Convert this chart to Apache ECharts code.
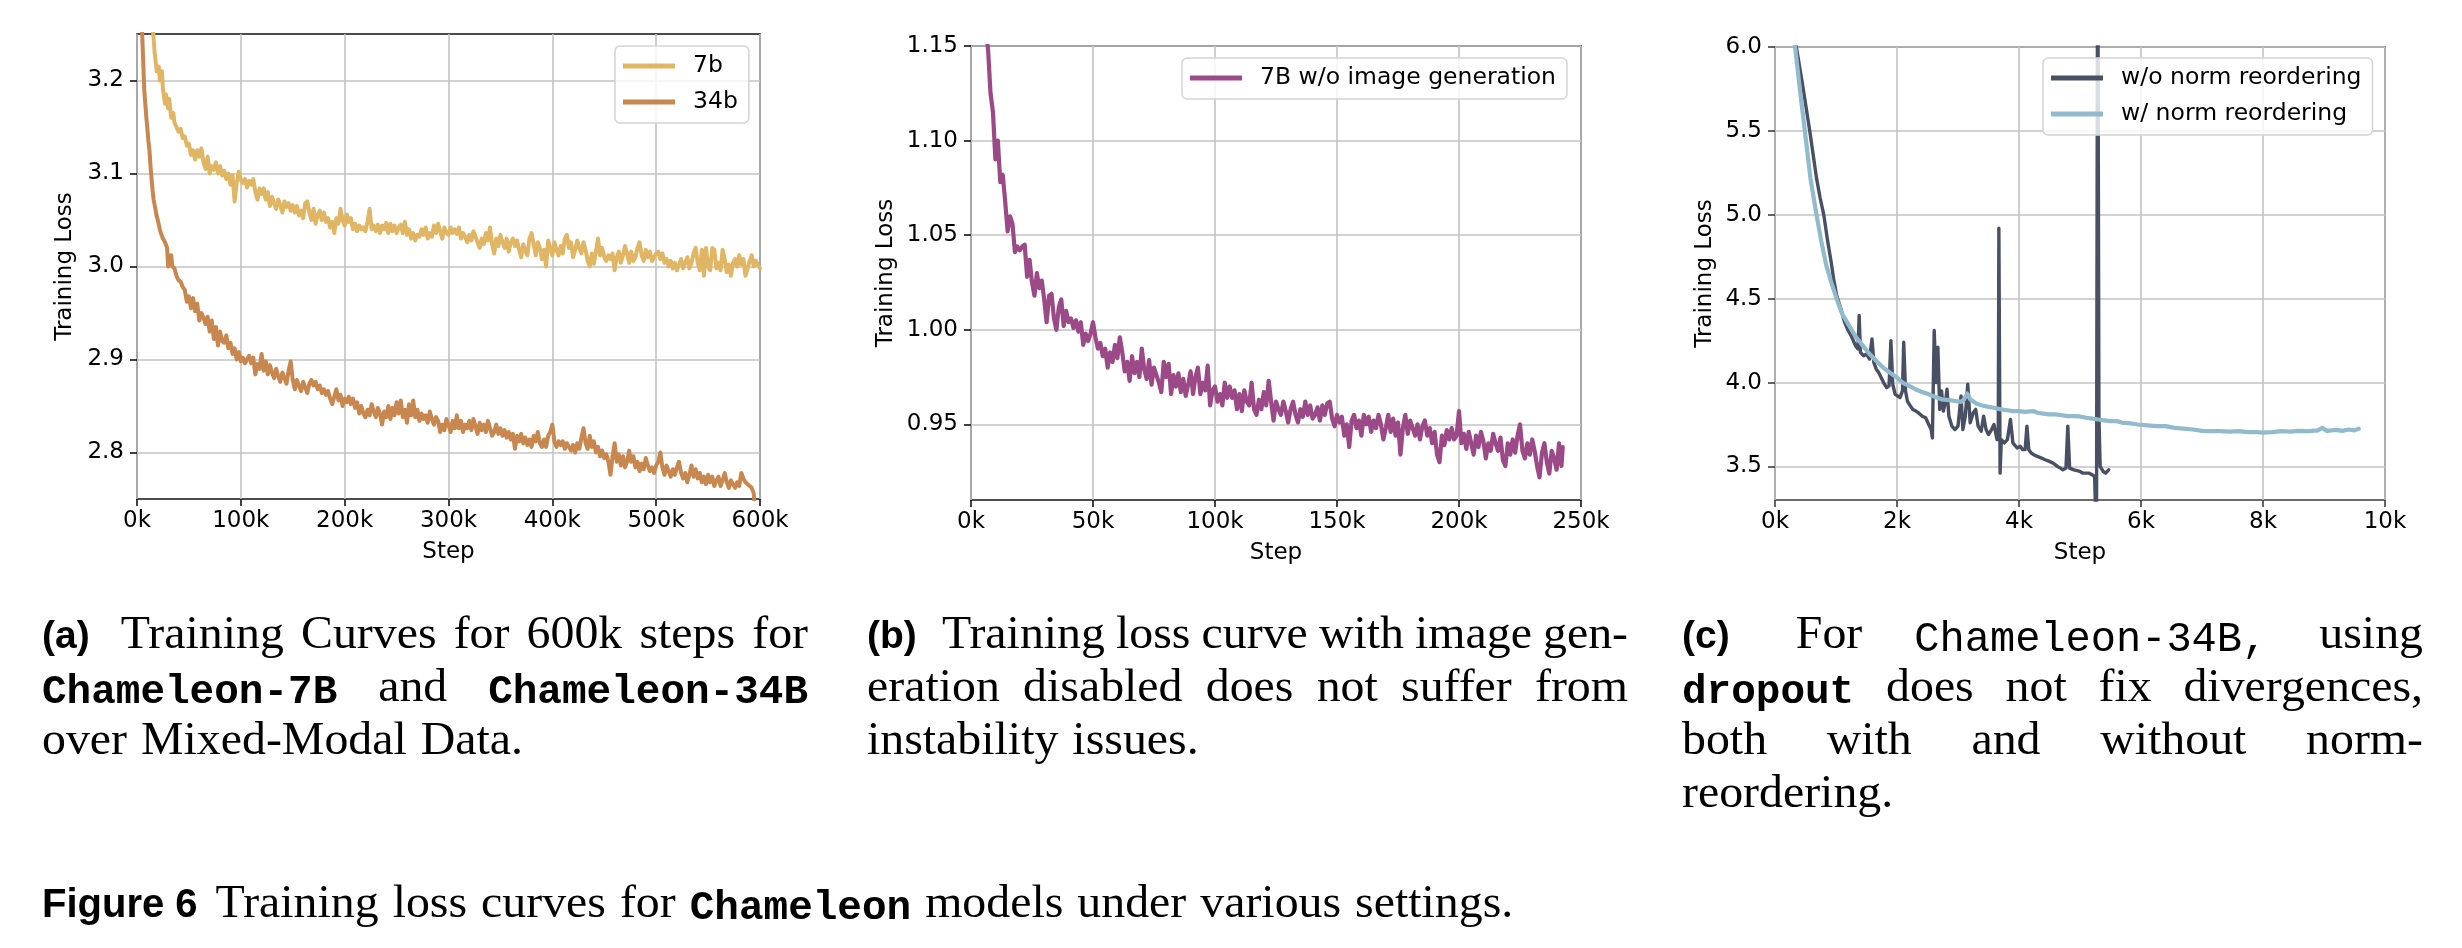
<!DOCTYPE html>
<html><head><meta charset="utf-8">
<script src="https://cdn.jsdelivr.net/npm/echarts@6/dist/echarts.min.js"></script>
<style>html,body{margin:0;padding:0;background:#fff}#c{width:2462px;height:948px}</style>
</head><body><div id="c"></div>
<script>
// ---------- Panel (a): Chameleon 7b / 34b, steps in thousands ----------
const steps7b = [12,15,17,19,21,22,24,25,27,28,
30,31,33,35,36,38,40,42,44,46,
48,50,52,54,56,58,60,62,64,66,
68,70,72,74,76,78,80,82,84,86,
88,90,92,94,96,98,100,102,104,106,
108,110,112,114,116,118,120,122,124,126,
128,130,132,134,136,138,140,142,144,146,
148,150,152,154,156,158,160,162,164,166,
168,170,172,174,176,178,180,182,184,186,
188,190,192,194,196,198,200,202,204,206,
208,210,212,214,216,218,220,222,224,226,
228,230,232,234,236,238,240,242,244,246,
248,250,252,254,256,258,260,262,264,266,
268,270,272,274,276,278,280,282,284,286,
288,290,292,294,296,298,300,302,304,306,
308,310,312,314,316,318,320,322,324,326,
328,330,332,334,336,338,340,342,344,346,
348,350,352,354,356,358,360,362,364,366,
368,370,372,374,376,378,380,382,384,386,
388,390,392,394,396,398,400,402,404,406,
408,410,412,414,416,418,420,422,424,426,
428,430,432,434,436,438,440,442,444,446,
448,450,452,454,456,458,460,462,464,466,
468,470,472,474,476,478,480,482,484,486,
488,490,492,494,496,498,500,502,504,506,
508,510,512,514,516,518,520,522,524,526,
528,530,532,534,536,538,540,542,544,546,
548,550,552,554,556,558,560,562,564,566,
568,570,572,574,576,578,580,582,584,586,
588,590,592,594,596,598,600];
const loss7b = [3.34,3.26,3.23,3.21,3.215,3.20,3.21,3.19,3.175,3.185,
3.17,3.18,3.16,3.165,3.155,3.15,3.145,3.148,3.138,3.14,
3.13,3.132,3.12,3.125,3.115,3.125,3.118,3.127,3.112,3.105,
3.118,3.1,3.108,3.104,3.112,3.1,3.108,3.098,3.103,3.094,
3.1,3.088,3.098,3.07,3.09,3.102,3.093,3.09,3.094,3.085,
3.092,3.088,3.094,3.08,3.072,3.084,3.078,3.084,3.072,3.08,
3.065,3.075,3.068,3.062,3.072,3.066,3.058,3.07,3.064,3.068,
3.06,3.066,3.058,3.065,3.055,3.06,3.052,3.068,3.07,3.058,
3.05,3.062,3.046,3.055,3.06,3.05,3.058,3.048,3.052,3.042,
3.048,3.036,3.052,3.046,3.062,3.05,3.044,3.056,3.048,3.052,
3.04,3.046,3.038,3.044,3.04,3.042,3.038,3.048,3.062,3.04,
3.044,3.038,3.045,3.036,3.044,3.04,3.047,3.036,3.046,3.038,
3.044,3.036,3.042,3.045,3.036,3.048,3.034,3.04,3.03,3.036,
3.028,3.034,3.032,3.04,3.034,3.042,3.03,3.036,3.032,3.044,
3.036,3.046,3.038,3.03,3.042,3.036,3.034,3.042,3.036,3.04,
3.035,3.042,3.03,3.036,3.032,3.026,3.034,3.028,3.038,3.032,
3.026,3.02,3.03,3.024,3.036,3.028,3.042,3.024,3.014,3.03,
3.022,3.034,3.026,3.02,3.03,3.016,3.026,3.03,3.022,3.028,
3.018,3.01,3.024,3.016,3.012,3.03,3.036,3.024,3.012,3.026,
3.02,3.008,3.018,3.0,3.028,3.02,3.012,3.026,3.018,3.012,
3.022,3.014,3.03,3.034,3.02,3.026,3.01,3.018,3.028,3.02,
3.014,3.026,3.018,3.006,3.0,3.014,3.003,3.016,3.03,3.012,
3.02,3.01,3.006,3.012,3.008,3.014,2.996,3.01,3.016,3.004,
3.012,3.022,3.014,3.004,3.016,3.006,3.01,3.02,3.026,3.012,
3.006,3.018,3.01,3.016,3.006,3.01,3.014,3.016,3.008,3.014,
3.004,3.008,3.0,3.006,2.998,3.004,2.996,3.002,3.008,2.998,
3.004,3.01,2.998,3.004,3.014,3.02,3.004,2.996,3.018,2.99,
3.02,3.0,2.996,3.02,3.018,2.998,3.004,2.996,3.018,3.008,
2.994,3.002,2.99,3.004,3.008,3.0,3.012,3.002,3.008,2.99,
2.998,3.006,3.012,3.0,3.006,3.002,2.998];

const steps34b = [4,5,6,7,8,9,10,11,12,13,
14,15,16,17,18,19,20,21,22,23,
24,25,26,27,28,29,30,31,32,33,
34,36,38,40,42,44,46,48,50,52,
54,56,58,60,62,64,66,68,70,72,
74,76,78,80,82,84,86,88,90,92,
94,96,98,100,102,104,106,108,110,112,
114,116,118,120,122,124,126,128,130,132,
134,136,138,140,142,144,146,148,150,152,
154,156,158,160,162,164,166,168,170,172,
174,176,178,180,182,184,186,188,190,192,
194,196,198,200,202,204,206,208,210,212,
214,216,218,220,222,224,226,228,230,232,
234,236,238,240,242,244,246,248,250,252,
254,256,258,260,262,264,266,268,270,272,
274,276,278,280,282,284,286,288,290,292,
294,296,298,300,302,304,306,308,310,312,
314,316,318,320,322,324,326,328,330,332,
334,336,338,340,342,344,346,348,350,352,
354,356,358,360,362,364,366,368,370,372,
374,376,378,380,382,384,386,388,390,392,
394,396,398,400,402,404,406,408,410,412,
414,416,418,420,422,424,426,428,430,432,
434,436,438,440,442,444,446,448,450,452,
454,456,458,460,462,464,466,468,470,472,
474,476,478,480,482,484,486,488,490,492,
494,496,498,500,502,504,506,508,510,512,
514,516,518,520,522,524,526,528,530,532,
534,536,538,540,542,544,546,548,550,552,
554,556,558,560,562,564,566,568,570,572,
574,576,578,580,582,584,586,588,590,592,
594,595,596];
const loss34b = [3.30,3.25,3.22,3.19,3.175,3.16,3.148,3.135,3.125,3.108,
3.095,3.082,3.072,3.066,3.06,3.054,3.05,3.045,3.04,3.036,
3.034,3.03,3.03,3.026,3.028,3.02,3.0,3.012,3.008,3.012,
3.0,2.998,2.99,2.985,2.984,2.978,2.975,2.962,2.968,2.955,
2.966,2.952,2.96,2.942,2.95,2.945,2.938,2.946,2.93,2.942,
2.922,2.935,2.915,2.93,2.92,2.918,2.926,2.912,2.918,2.906,
2.912,2.9,2.908,2.898,2.902,2.896,2.9,2.904,2.896,2.902,
2.884,2.895,2.89,2.906,2.888,2.898,2.884,2.894,2.886,2.88,
2.89,2.882,2.876,2.886,2.88,2.874,2.888,2.898,2.878,2.868,
2.878,2.872,2.866,2.876,2.87,2.864,2.874,2.878,2.872,2.876,
2.868,2.872,2.864,2.868,2.862,2.866,2.858,2.852,2.86,2.868,
2.856,2.862,2.85,2.858,2.854,2.86,2.852,2.858,2.848,2.854,
2.842,2.85,2.842,2.838,2.846,2.84,2.852,2.844,2.838,2.848,
2.842,2.83,2.844,2.838,2.85,2.836,2.848,2.84,2.854,2.842,
2.856,2.838,2.846,2.832,2.852,2.84,2.856,2.838,2.846,2.834,
2.842,2.836,2.84,2.832,2.844,2.836,2.83,2.838,2.834,2.822,
2.83,2.824,2.836,2.83,2.822,2.834,2.826,2.84,2.826,2.834,
2.822,2.83,2.826,2.834,2.824,2.836,2.828,2.82,2.832,2.824,
2.83,2.822,2.834,2.826,2.818,2.822,2.83,2.82,2.826,2.818,
2.824,2.816,2.822,2.814,2.82,2.804,2.818,2.812,2.82,2.81,
2.816,2.808,2.814,2.806,2.818,2.812,2.822,2.81,2.806,2.814,
2.806,2.818,2.822,2.83,2.812,2.806,2.812,2.808,2.812,2.804,
2.81,2.806,2.802,2.808,2.8,2.81,2.804,2.816,2.826,2.81,
2.804,2.818,2.806,2.812,2.8,2.806,2.796,2.802,2.794,2.798,
2.79,2.776,2.796,2.81,2.79,2.798,2.786,2.796,2.784,2.79,
2.802,2.79,2.796,2.784,2.79,2.78,2.788,2.782,2.794,2.786,
2.78,2.784,2.778,2.786,2.79,2.8,2.784,2.776,2.786,2.78,
2.774,2.782,2.776,2.784,2.79,2.778,2.772,2.778,2.768,2.776,
2.786,2.774,2.782,2.772,2.778,2.768,2.774,2.766,2.776,2.768,
2.774,2.764,2.77,2.774,2.764,2.77,2.778,2.768,2.762,2.77,
2.766,2.762,2.768,2.764,2.778,2.772,2.768,2.766,2.764,2.762,
2.756,2.74,2.72];

// ---------- Panel (b): 7B without image generation ----------
const stepsNoImg = [6,7,8,9,10,11,12,13,14,15,
16,17,18,19,20,21,22,23,24,25,
26,27,28,29,30,31,32,33,34,35,
36,37,38,39,40,41,42,43,44,45,
46,47,48,49,50,51,52,53,54,55,
56,57,58,59,60,61,62,63,64,65,
66,67,68,69,70,71,72,73,74,75,
76,77,78,79,80,81,82,83,84,85,
86,87,88,89,90,91,92,93,94,95,
96,97,98,99,100,101,102,103,104,105,
106,107,108,109,110,111,112,113,114,115,
116,117,118,119,120,121,122,123,124,125,
126,127,128,129,130,131,132,133,134,135,
136,137,138,139,140,141,142,143,144,145,
146,147,148,149,150,151,152,153,154,155,
156,157,158,159,160,161,162,163,164,165,
166,167,168,169,170,171,172,173,174,175,
176,177,178,179,180,181,182,183,184,185,
186,187,188,189,190,191,192,193,194,195,
196,197,198,199,200,201,202,203,204,205,
206,207,208,209,210,211,212,213,214,215,
216,217,218,219,220,221,222,223,224,225,
226,227,228,229,230,231,232,233,234,235,
236,237,238,239,240,241,242,242.5];
const lossNoImg = [1.16,1.148,1.125,1.115,1.09,1.1,1.078,1.082,1.068,1.052,
1.06,1.056,1.041,1.044,1.042,1.044,1.045,1.028,1.037,1.025,
1.018,1.03,1.022,1.026,1.016,1.004,1.018,1.019,1.006,1.0,
1.012,1.016,1.002,1.01,1.004,1.006,1.001,1.005,0.999,1.004,
0.992,0.998,0.994,0.998,1.004,0.996,0.99,0.993,0.986,0.99,
0.98,0.988,0.983,0.992,0.985,0.996,0.988,0.978,0.983,0.973,
0.986,0.977,0.983,0.975,0.99,0.979,0.974,0.984,0.971,0.98,
0.976,0.972,0.967,0.983,0.975,0.982,0.966,0.976,0.97,0.977,
0.967,0.974,0.965,0.971,0.978,0.966,0.975,0.98,0.966,0.972,
0.968,0.981,0.96,0.968,0.97,0.962,0.966,0.96,0.972,0.964,
0.97,0.964,0.968,0.958,0.966,0.957,0.968,0.962,0.96,0.972,
0.958,0.955,0.963,0.958,0.967,0.96,0.973,0.962,0.952,0.962,
0.958,0.955,0.962,0.957,0.951,0.958,0.962,0.955,0.951,0.958,
0.954,0.962,0.955,0.96,0.953,0.955,0.959,0.952,0.96,0.955,
0.961,0.962,0.953,0.949,0.955,0.951,0.954,0.944,0.95,0.938,
0.952,0.955,0.948,0.952,0.944,0.955,0.95,0.954,0.946,0.952,
0.948,0.955,0.95,0.942,0.948,0.955,0.946,0.953,0.944,0.951,
0.934,0.948,0.955,0.945,0.952,0.948,0.944,0.95,0.942,0.949,
0.952,0.944,0.948,0.94,0.946,0.934,0.93,0.944,0.939,0.947,
0.942,0.948,0.942,0.944,0.957,0.94,0.945,0.937,0.946,0.94,
0.934,0.944,0.938,0.946,0.941,0.932,0.94,0.936,0.945,0.94,
0.936,0.943,0.931,0.928,0.94,0.934,0.942,0.935,0.944,0.95,
0.936,0.932,0.94,0.934,0.942,0.936,0.928,0.922,0.935,0.94,
0.93,0.924,0.936,0.932,0.926,0.94,0.928,0.938];

// ---------- Panel (c): Chameleon-34B with dropout, steps in thousands ----------
const stepsNoReorder = [0.3,0.35,0.45,0.57,0.68,0.74,0.8,0.86,0.92,0.96,
1.01,1.08,1.14,1.2,1.26,1.32,1.36,1.38,1.4,1.45,
1.5,1.55,1.59,1.62,1.66,1.7,1.74,1.78,1.83,1.87,
1.9,1.93,1.97,2.0,2.05,2.09,2.11,2.14,2.17,2.22,
2.26,2.31,2.35,2.41,2.47,2.52,2.56,2.58,2.61,2.64,
2.67,2.7,2.73,2.76,2.8,2.82,2.85,2.9,2.95,3.0,
3.05,3.08,3.12,3.16,3.2,3.25,3.29,3.33,3.38,3.42,
3.46,3.5,3.55,3.59,3.64,3.66,3.67,3.69,3.71,3.76,
3.81,3.86,3.9,3.97,4.02,4.06,4.1,4.13,4.16,4.2,
4.24,4.3,4.37,4.43,4.5,4.56,4.63,4.68,4.72,4.77,
4.8,4.83,4.9,5.0,5.05,5.1,5.15,5.2,5.24,5.27,
5.29,5.31,5.33,5.38,5.42,5.47];
const lossNoReorder = [6.12,6.0,5.78,5.5,5.22,5.1,5.0,4.85,4.72,4.62,
4.52,4.44,4.36,4.31,4.27,4.22,4.2,4.4,4.18,4.16,
4.17,4.14,4.26,4.12,4.08,4.06,4.03,4.0,3.97,3.98,
4.25,3.99,3.93,3.92,3.91,3.95,4.24,3.95,3.89,3.86,
3.84,3.83,3.82,3.8,3.79,3.75,3.72,3.67,4.31,4.0,
4.21,3.84,3.95,3.83,3.9,3.96,3.8,3.74,3.72,3.74,
3.92,3.72,3.8,3.99,3.76,3.82,3.84,3.74,3.71,3.8,
3.72,3.69,3.72,3.75,3.66,3.7,4.92,3.46,3.66,3.64,
3.66,3.78,3.64,3.61,3.62,3.6,3.6,3.74,3.6,3.58,
3.57,3.56,3.55,3.54,3.53,3.52,3.5,3.49,3.48,3.49,
3.74,3.49,3.48,3.47,3.46,3.46,3.46,3.45,3.44,3.0,
7.0,3.8,3.5,3.47,3.46,3.48];
const stepsReorder = [0.28,0.33,0.41,0.49,0.58,0.68,0.76,0.84,0.92,1.01,
1.1,1.23,1.33,1.44,1.55,1.66,1.77,1.88,2.0,2.09,
2.2,2.3,2.4,2.52,2.62,2.73,2.85,2.95,3.05,3.1,
3.15,3.2,3.3,3.38,3.5,3.59,3.7,3.81,3.9,4.0,
4.1,4.24,4.3,4.4,4.5,4.6,4.7,4.8,4.9,5.0,
5.1,5.2,5.3,5.4,5.5,5.6,5.7,5.8,5.95,6.1,
6.25,6.4,6.55,6.7,6.85,7.0,7.15,7.3,7.45,7.6,
7.75,7.9,8.0,8.15,8.3,8.45,8.6,8.75,8.9,8.97,
9.05,9.2,9.3,9.4,9.5,9.57];
const lossReorder = [6.12,6.0,5.74,5.5,5.22,5.0,4.84,4.7,4.6,4.5,
4.41,4.33,4.27,4.22,4.17,4.13,4.09,4.06,4.03,4.0,
3.98,3.96,3.945,3.93,3.915,3.9,3.895,3.89,3.885,3.9,
3.935,3.9,3.875,3.865,3.855,3.85,3.84,3.835,3.83,3.83,
3.825,3.83,3.82,3.815,3.81,3.81,3.805,3.8,3.8,3.798,
3.79,3.785,3.78,3.775,3.77,3.77,3.76,3.758,3.75,3.745,
3.74,3.74,3.73,3.725,3.72,3.712,3.71,3.71,3.708,3.71,
3.705,3.705,3.702,3.705,3.71,3.708,3.712,3.71,3.715,3.73,
3.712,3.718,3.712,3.72,3.715,3.725];

// ---------- Tick values / labels ----------
const xTickLabelsA = ['0k','100k','200k','300k','400k','500k','600k'];
const xTickLabelsB = ['0k','50k','100k','150k','200k','250k'];
const xTickLabelsC = ['0k','2k','4k','6k','8k','10k'];
const yTicksA = [2.8, 2.9, 3.0, 3.1, 3.2];
const yTicksB = [0.95, 1.00, 1.05, 1.10, 1.15];
const yTicksC = [3.5, 4.0, 4.5, 5.0, 5.5, 6.0];
const seriesNames = ['7b', '34b', '7B w/o image generation', 'w/o norm reordering', 'w/ norm reordering'];

// ---------- Captions ----------
const captionA = [
  [['(a)','lab'],['Training','rm'],['Curves','rm'],['for','rm'],['600k','rm'],['steps','rm'],['for','rm']],
  [['Chameleon-7B','ttb'],['and','rm'],['Chameleon-34B','ttb']],
  [['over','rm'],['Mixed-Modal','rm'],['Data.','rm']]
];
const captionB = [
  [['(b)','lab'],['Training','rm'],['loss','rm'],['curve','rm'],['with','rm'],['image','rm'],['gen-','rm']],
  [['eration','rm'],['disabled','rm'],['does','rm'],['not','rm'],['suffer','rm'],['from','rm']],
  [['instability','rm'],['issues.','rm']]
];
const captionC = [
  [['(c)','lab'],['For','rm'],['Chameleon-34B,','tt'],['using','rm']],
  [['dropout','ttb'],['does','rm'],['not','rm'],['fix','rm'],['divergences,','rm']],
  [['both','rm'],['with','rm'],['and','rm'],['without','rm'],['norm-','rm']],
  [['reordering.','rm']]
];
const captionFig = [[['Figure 6','fig'],['Training','rm'],['loss','rm'],['curves','rm'],['for','rm'],['Chameleon','ttb'],['models','rm'],['under','rm'],['various','rm'],['settings.','rm']]];

// ================= build =================
const pairs = (xs, ys) => xs.slice(0, Math.min(xs.length, ys.length)).map((x, i) => [x, ys[i]]);
const FONT = 'DejaVu Sans';
const TICK_FS = 23;

function xAxisCfg(gi, max, interval, labels, axisColor) {
  return {
    type: 'value', gridIndex: gi, min: 0, max: max, interval: interval,
    axisLine: { show: false },
    axisTick: { show: true, inside: false, length: 7, lineStyle: { color: axisColor, width: 1.6 } },
    axisLabel: { show: true, margin: 11, fontSize: TICK_FS, fontFamily: FONT, color: '#000',
      formatter: v => labels[Math.round(v / interval)] },
    splitLine: { show: true, lineStyle: { color: '#c3c3c3', width: 1.6 } },
    name: 'Step', nameLocation: 'middle', nameGap: 42,
    nameTextStyle: { fontSize: TICK_FS, fontFamily: FONT, color: '#000' }
  };
}
function yAxisCfg(gi, min, max, ticks, decimals, nameGap, axisColor) {
  return {
    type: 'value', gridIndex: gi, min: min, max: max,
    axisLine: { show: false },
    axisTick: { show: true, inside: false, length: 7, customValues: ticks, lineStyle: { color: axisColor, width: 1.6 } },
    axisLabel: { show: true, margin: 13, customValues: ticks, fontSize: TICK_FS, fontFamily: FONT, color: '#000',
      formatter: v => Number(v).toFixed(decimals) },
    splitLine: { show: true, lineStyle: { color: '#c3c3c3', width: 1.6 } },
    name: 'Training Loss', nameLocation: 'middle', nameGap: nameGap,
    nameTextStyle: { fontSize: TICK_FS, fontFamily: FONT, color: '#000' }
  };
}
function lineSeries(name, gi, data, color, width) {
  return {
    type: 'line', name: name, xAxisIndex: gi, yAxisIndex: gi, data: data,
    showSymbol: false, symbol: 'none', clip: true, smooth: false,
    lineStyle: { color: color, width: width, join: 'round', cap: 'round' },
    itemStyle: { color: color },
    emphasis: { disabled: true }, animation: false
  };
}
function legendCfg(left, top, names) {
  return {
    data: names, left: left, top: top, orient: 'vertical',
    icon: 'rect', itemWidth: 52, itemHeight: 5, itemGap: 12,
    backgroundColor: 'rgba(255,255,255,0.8)', borderColor: '#d4d4d4', borderWidth: 1.5, borderRadius: 5,
    padding: [8, 11, 9, 8],
    textStyle: { fontSize: 23.5, fontFamily: FONT, color: '#000', lineHeight: 24, padding: [0, 0, 0, 13] },
    selectedMode: false
  };
}

// ---- caption layout (text only) ----
const FONTS = {
  lab: { family: 'Liberation Sans', weight: 'bold', size: 39, sx: 1, k: 0.3465 },
  fig: { family: 'Liberation Sans', weight: 'bold', size: 40, sx: 1, k: 0.3465 },
  rm:  { family: 'Liberation Serif', weight: 'normal', size: 46, sx: 1.04, k: 0.3375 },
  ttb: { family: 'Liberation Mono', weight: 'bold', size: 41, sx: 1, k: 0.2665 },
  tt:  { family: 'Liberation Mono', weight: 'normal', size: 42, sx: 1, k: 0.2665 }
};
const mctx = document.createElement('canvas').getContext('2d');
function measure(t, f) {
  mctx.font = f.weight + ' ' + f.size + 'px ' + f.family;
  return mctx.measureText(t).width * f.sx;
}
function layoutParagraph(lines, x0, x1, baseline0, lineStep) {
  const els = [];
  lines.forEach((words, li) => {
    const justify = li < lines.length - 1;
    const ws = words.map(w => measure(w[0], FONTS[w[1]]));
    const base = words.slice(0, -1).map(w => (w[1] === 'lab' ? 28 : (w[1] === 'fig' ? 18 : 14)));
    let extra = 0;
    if (justify && words.length > 1) {
      const tot = ws.reduce((a, b) => a + b, 0) + base.reduce((a, b) => a + b, 0);
      extra = (x1 - x0 - tot) / (words.length - 1);
    }
    let x = x0;
    const by = baseline0 + li * lineStep;
    words.forEach((w, i) => {
      const f = FONTS[w[1]];
      els.push({
        type: 'text', x: x, y: by - f.k * f.size, scaleX: f.sx, silent: true,
        style: { text: w[0], fontSize: f.size, fontFamily: f.family, fontWeight: f.weight,
                 fill: '#000', align: 'left', verticalAlign: 'middle' }
      });
      x += ws[i] + (i < base.length ? base[i] + extra : 0);
    });
  });
  return els;
}

const graphics = [].concat(
  layoutParagraph(captionA, 42, 808, 651, 53),
  layoutParagraph(captionB, 867, 1628, 651, 53),
  layoutParagraph(captionC, 1682, 2423, 651, 53),
  layoutParagraph(captionFig, 42, 1560, 920, 53)
);

const option = {
  backgroundColor: '#ffffff',
  animation: false,
  textStyle: { fontFamily: FONT },
  grid: [
    { left: 137, top: 34, width: 623, height: 465, show: true, borderColor: '#111', borderWidth: 1.6, backgroundColor: 'transparent', containLabel: false },
    { left: 971, top: 46, width: 610, height: 454, show: true, borderColor: '#111', borderWidth: 1.6, backgroundColor: 'transparent', containLabel: false },
    { left: 1775, top: 47, width: 610, height: 453, show: true, borderColor: '#3c3c3c', borderWidth: 1.6, backgroundColor: 'transparent', containLabel: false }
  ],
  xAxis: [
    xAxisCfg(0, 600, 100, xTickLabelsA, '#111'),
    xAxisCfg(1, 250, 50, xTickLabelsB, '#111'),
    xAxisCfg(2, 10, 2, xTickLabelsC, '#3c3c3c')
  ],
  yAxis: [
    yAxisCfg(0, 2.75, 3.25, yTicksA, 1, 60, '#111'),
    yAxisCfg(1, 0.91, 1.15, yTicksB, 2, 73, '#111'),
    yAxisCfg(2, 3.3, 6.0, yTicksC, 1, 58, '#3c3c3c')
  ],
  legend: [
    legendCfg(615, 46, [seriesNames[0], seriesNames[1]]),
    legendCfg(1182, 58, [seriesNames[2]]),
    legendCfg(2043, 58, [seriesNames[3], seriesNames[4]])
  ],
  series: [
    lineSeries(seriesNames[0], 0, pairs(steps7b, loss7b), '#E0B664', 4),
    lineSeries(seriesNames[1], 0, pairs(steps34b, loss34b), '#C8874F', 4),
    lineSeries(seriesNames[2], 1, pairs(stepsNoImg, lossNoImg), '#9B4A87', 4.2),
    lineSeries(seriesNames[3], 2, pairs(stepsNoReorder, lossNoReorder), '#4A5063', 3.4),
    lineSeries(seriesNames[4], 2, pairs(stepsReorder, lossReorder), '#92BACD', 4.2)
  ],
  graphic: graphics
};

const chart = echarts.init(document.getElementById('c'), null, { renderer: 'canvas', width: 2462, height: 948 });
chart.setOption(option);
</script>
</body></html>
